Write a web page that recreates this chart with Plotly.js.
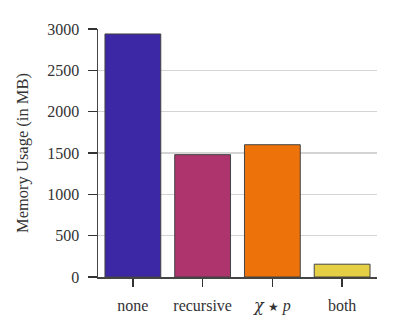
<!DOCTYPE html>
<html>
<head>
<meta charset="utf-8">
<script src="https://cdn.plot.ly/plotly-3.0.1.min.js"></script>
<style>
  html, body { margin: 0; padding: 0; background: #fff; }
  #chart { width: 399px; height: 333px; }
</style>
</head>
<body>
<div id="chart"></div>
<script>
// data
var methods = ["none", "recursive", "<span style='font-family:DejaVu Serif'><i>χ</i></span> <span style='font-size:12px'>★</span> <i>p</i>", "both"];
var memoryMB = [2940, 1480, 1600, 155];
var barColors = ["#3c27a4", "#ad346c", "#ec7209", "#e4cf45"];
var yTicks = [0, 500, 1000, 1500, 2000, 2500, 3000];

var font = {family: "Liberation Serif, DejaVu Serif, serif", size: 16, color: "#333"};

var trace = {
  x: methods,
  y: memoryMB,
  type: "bar",
  width: 0.8,
  marker: {color: barColors, line: {color: "#444", width: 1}},
  hoverinfo: "none"
};

var layout = {
  width: 399,
  height: 333,
  margin: {l: 98, r: 22, t: 29, b: 56},
  paper_bgcolor: "#fff",
  plot_bgcolor: "#fff",
  font: font,
  showlegend: false,
  xaxis: {
    type: "category",
    range: [-0.5, 3.5],
    showgrid: false,
    showline: true,
    linecolor: "#444",
    linewidth: 1.5,
    ticks: "outside",
    ticklen: 8,
    tickwidth: 1.5,
    tickcolor: "#333",
    ticklabelstandoff: 5,
    tickfont: font
  },
  yaxis: {
    range: [0, 3000],
    tickvals: yTicks,
    showgrid: true,
    gridcolor: "#d4d4d4",
    gridwidth: 1.5,
    zeroline: false,
    showline: true,
    linecolor: "#444",
    linewidth: 1.5,
    ticks: "outside",
    ticklen: 9,
    tickwidth: 1.5,
    tickcolor: "#333",
    ticklabelstandoff: 5,
    tickfont: font,
    title: {text: "Memory Usage (in MB)", font: {family: font.family, size: 16.5, color: "#333"}, standoff: 14}
  }
};

Plotly.newPlot("chart", [trace], layout, {staticPlot: true});
</script>
</body>
</html>
